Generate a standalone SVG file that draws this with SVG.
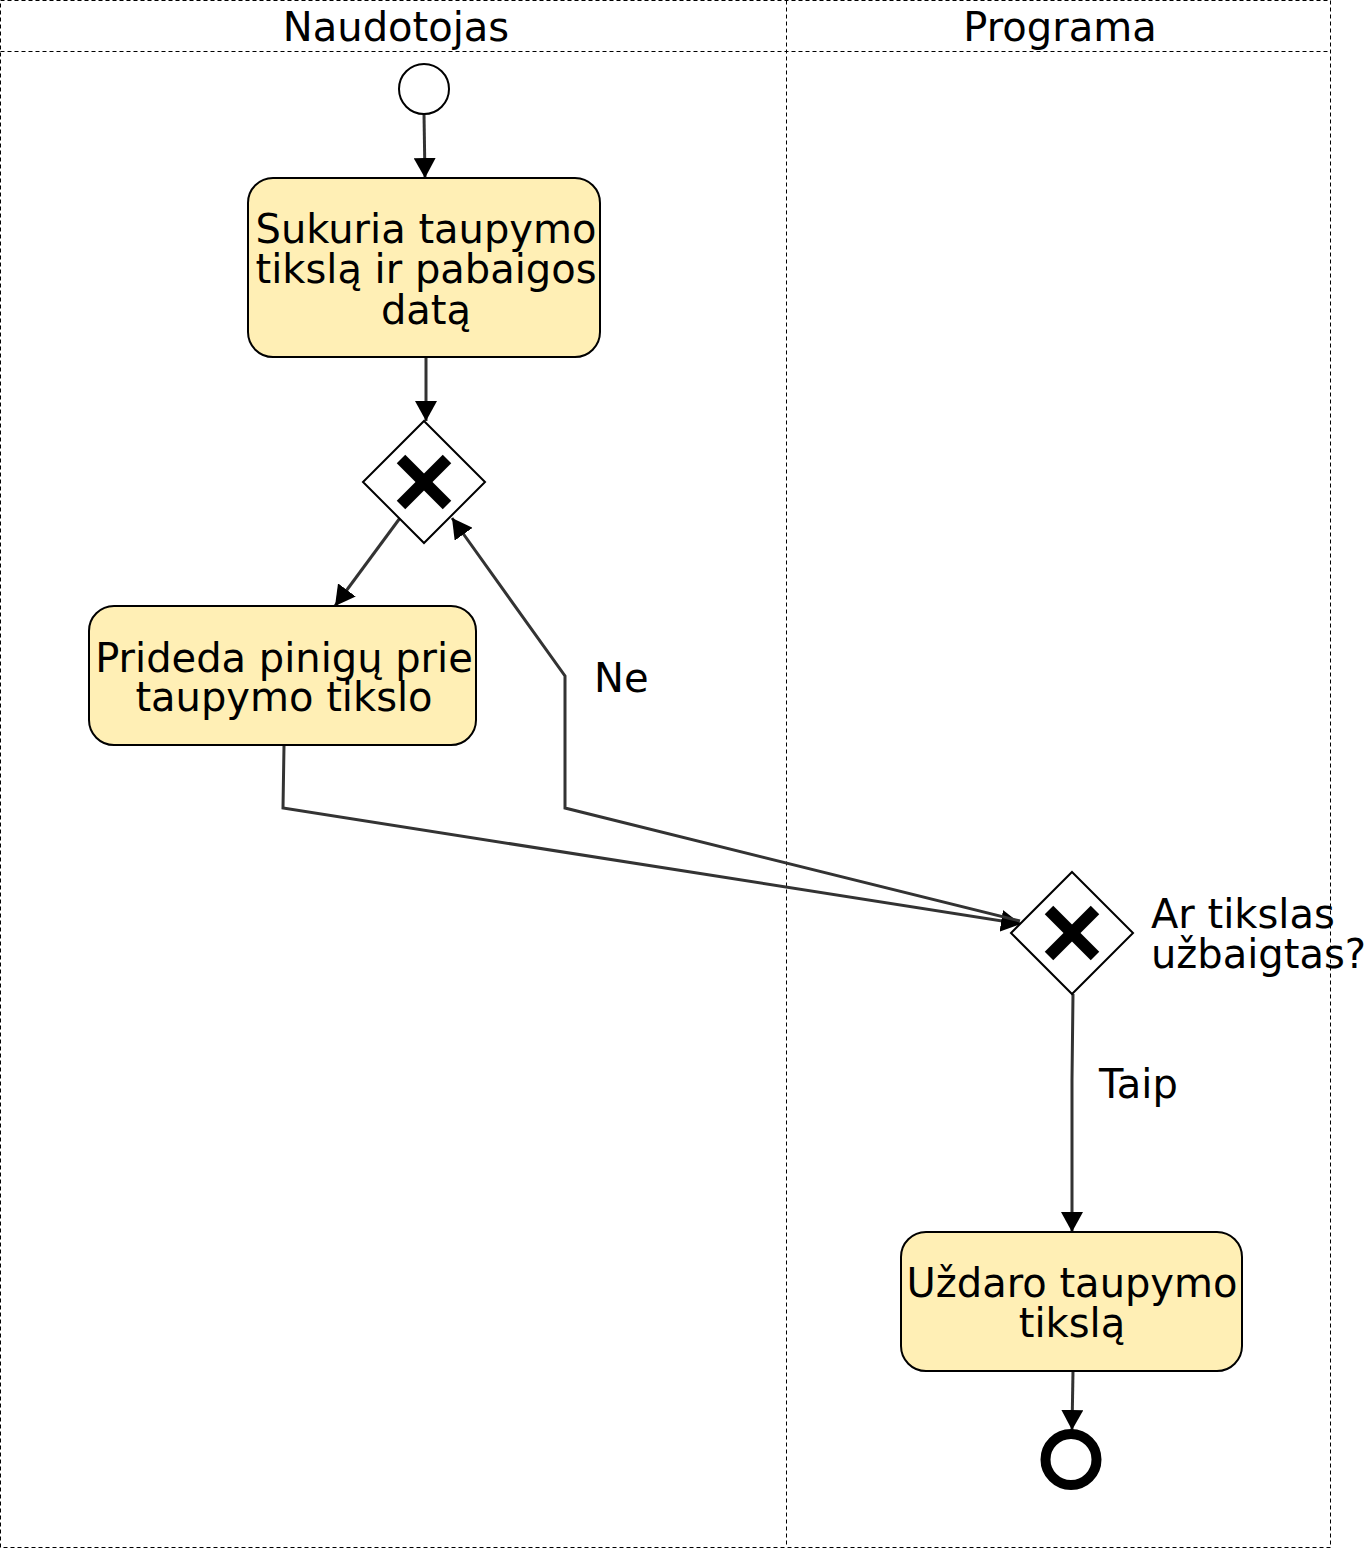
<svg xmlns="http://www.w3.org/2000/svg" width="1365" height="1549" viewBox="0 0 1365 1549">
<style>
  text { font-family: "DejaVu Sans", "Liberation Sans", sans-serif; font-size: 40px; fill: #000; }
  .lane { fill: none; stroke: #000; stroke-width: 1; stroke-dasharray: 4 3; }
  .task { fill: #ffefb5; stroke: #000; stroke-width: 2; }
  .gw { fill: #fff; stroke: #000; stroke-width: 2; }
  .xmark { stroke: #000; stroke-width: 12; stroke-linecap: butt; }
  .edge { fill: none; stroke: #333; stroke-width: 3; marker-end: url(#arrow); }
  .c { text-anchor: middle; }
</style>
<defs>
  <marker id="arrow" markerUnits="userSpaceOnUse" markerWidth="20" markerHeight="22" refX="20" refY="11" orient="auto">
    <path d="M0,0 L20,11 L0,22 z" fill="#000"/>
  </marker>
</defs>
<rect x="0" y="0" width="1365" height="1549" fill="#fff"/>
<g id="pool">
  <rect class="lane" x="0.5" y="0.5" width="1330" height="1547"/>
  <line class="lane" x1="0.5" y1="51.5" x2="1330.5" y2="51.5"/>
  <line class="lane" x1="786.5" y1="0.5" x2="786.5" y2="1547.5"/>
  <text class="c" x="396" y="41">Naudotojas</text>
  <text class="c" x="1060" y="41">Programa</text>
</g>
<g id="connectors">
  <path class="edge" d="M424,114 L425,178"/>
  <path class="edge" d="M426,357 L426,421"/>
  <path class="edge" d="M400,518 L335,606"/>
  <path class="edge" d="M284,746 L283,808 L1021,924"/>
  <path class="edge" d="M1020,921 L565,808 L565,676 L452,518"/>
  <path class="edge" d="M1073,994 L1072,1080 L1072,1165 L1072,1232"/>
  <path class="edge" d="M1073,1371 L1072,1430"/>
  <text x="594" y="692">Ne</text>
  <text x="1099" y="1098">Taip</text>
</g>
<g id="start">
  <circle cx="424" cy="89" r="25" fill="#fff" stroke="#000" stroke-width="2"/>
</g>
<g id="task1">
  <rect class="task" x="248" y="178" width="352" height="179" rx="25" ry="25"/>
  <text class="c" x="426" y="243">Sukuria taupymo</text>
  <text class="c" x="426" y="283">tikslą ir pabaigos</text>
  <text class="c" x="426" y="324">datą</text>
</g>
<g id="gateway1">
  <polygon class="gw" points="424,421 485,482 424,543 363,482"/>
  <line class="xmark" x1="401" y1="459" x2="447" y2="505"/>
  <line class="xmark" x1="447" y1="459" x2="401" y2="505"/>
</g>
<g id="task2">
  <rect class="task" x="89" y="606" width="387" height="139" rx="25" ry="25"/>
  <text class="c" x="284" y="672">Prideda pinigų prie</text>
  <text class="c" x="284" y="711">taupymo tikslo</text>
</g>
<g id="gateway2">
  <polygon class="gw" points="1072,872 1133,933 1072,994 1011,933"/>
  <line class="xmark" x1="1049" y1="910" x2="1095" y2="956"/>
  <line class="xmark" x1="1095" y1="910" x2="1049" y2="956"/>
  <text x="1151" y="928">Ar tikslas</text>
  <text x="1151" y="968">užbaigtas?</text>
</g>
<g id="task3">
  <rect class="task" x="901" y="1232" width="341" height="139" rx="25" ry="25"/>
  <text class="c" x="1072" y="1297">Uždaro taupymo</text>
  <text class="c" x="1072" y="1337">tikslą</text>
</g>
<g id="end">
  <circle cx="1071" cy="1459.5" r="25.5" fill="#fff" stroke="#000" stroke-width="10"/>
</g>
</svg>
